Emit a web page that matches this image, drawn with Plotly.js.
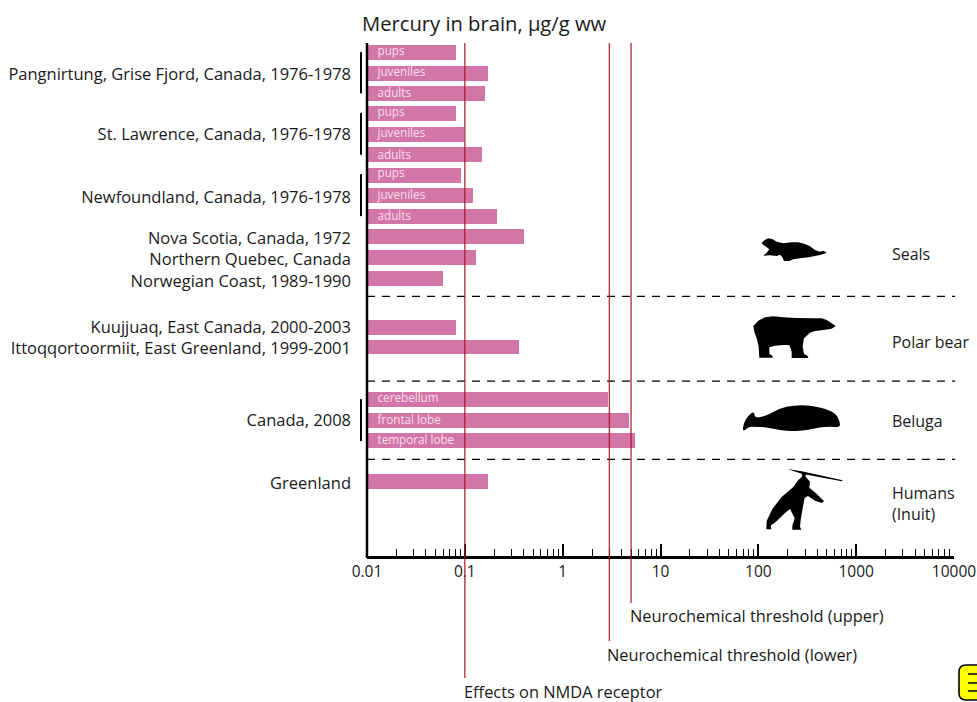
<!DOCTYPE html>
<html><head><meta charset="utf-8">
<script src="https://cdn.plot.ly/plotly-3.0.1.min.js"></script>
<style>html,body{margin:0;padding:0;background:#fff;overflow:hidden}</style></head>
<body><div id="chart" style="width:977px;height:702px"></div>
<script>
const FONT = '"Open Sans", Lato, sans-serif';
const barRows = [0,1.03,2,3,4.03,5,6.03,7,8,9,10,11.03,13.45,14.4,16.97,18,18.97,20.98];
const barValues = [0.081,0.173,0.161,0.081,0.098,0.15,0.091,0.121,0.213,0.40,0.13,0.06,0.081,0.358,2.9,4.76,5.5,0.173];
const innerLabels = ['pups','juveniles','adults','pups','juveniles','adults','pups','juveniles','adults','cerebellum','frontal lobe','temporal lobe'];
const innerRows = [-0.02,1,2.02,2.95,4,5.07,5.95,7,8.05,16.95,18,19.02];
const innerX = [0.0128,0.0128,0.0128,0.0128,0.0128,0.0128,0.0128,0.0128,0.0128,0.0128,0.0128,0.0128];
const siteLabels = ['Pangnirtung, Grise Fjord, Canada, 1976-1978','St. Lawrence, Canada, 1976-1978','Newfoundland, Canada, 1976-1978','Nova Scotia, Canada, 1972','Northern Quebec, Canada','Norwegian Coast, 1989-1990','Kuujjuaq, East Canada, 2000-2003','Ittoqqortoormiit, East Greenland, 1999-2001','Canada, 2008','Greenland'];
const siteRows = [1.07,4,7.07,9.07,10.12,11.2,13.45,14.45,18,21.05];
const xTickVals = [0.01,0.1,1,10,100,1000,10000];
const xTickText = ['0.01','0.1','1','10','100','1000','10000'];
const groupLabels = ['Seals','Polar bear','Beluga','Humans<br>(Inuit)'];
const groupRows = [9.95,14.25,18.1,22.15];
const groupX = [2320,2320,2320,2320];
const separatorRows = [11.92,16.07,19.9];
const brackets = [[-0.02,2],[2.95,5],[5.95,8],[16.95,19]];
const thresholds = [0.1,3,5];
const thresholdLabels = ['Effects on NMDA receptor','Neurochemical threshold (lower)','Neurochemical threshold (upper)'];
const thresholdEndPx = [678,641,603];
const thresholdLabelPxY = [691,654.5,615.5];
const thresholdLabelPxX = [464,607,630];

const seal = [[95,38],[103,31],[115,25],[128,28],[140,35],[160,40],[185,37],[205,37],[225,42],[240,49],[255,60],[270,65],[280,62],[290,68],[280,72],[270,75],[255,78],[235,82],[210,85],[190,88],[178,93],[162,93],[157,82],[150,74],[140,78],[120,76],[100,77],[110,68],[118,58],[108,50],[97,42]];
const bear = [[317,288],[305,280],[290,270],[275,265],[250,265],[200,264],[160,262],[130,259],[105,262],[85,272],[70,288],[73,305],[80,325],[86,350],[88,383],[128,383],[128,378],[118,372],[118,352],[135,347],[160,345],[178,345],[185,365],[185,384],[235,384],[233,378],[222,372],[218,350],[222,325],[240,308],[255,303],[280,300],[305,296]];
const beluga = [[38,112],[40,85],[55,62],[72,48],[75,70],[110,62],[150,40],[190,31],[240,31],[285,41],[317,55],[330,80],[330,97],[300,95],[270,97],[230,105],[190,109],[150,106],[110,97],[75,95],[55,95]];
const human = [[215,230],[228,233],[227,245],[240,260],[238,278],[258,295],[282,318],[276,324],[255,317],[234,303],[224,308],[218,340],[212,375],[210,395],[214,404],[187,404],[187,392],[194,370],[180,342],[165,354],[138,380],[122,392],[124,403],[109,403],[110,378],[127,342],[155,306],[190,276],[205,255],[216,245]];
const spear = [[172,222],[215,229],[338,256],[335,259],[215,236]];

const L=367,T=43,W=587,H=513;
const px = v => ((v-L)/W).toFixed(5);
const py = v => (1-(v-T)/H).toFixed(5);
function sil(pts, ox, oy){
  return {type:'path',xref:'paper',yref:'paper',fillcolor:'#000',line:{width:0},
    path:'M'+pts.map(p=>px(ox+p[0]/3)+','+py(oy+p[1]/3)).join('L')+'Z'};
}
function smooth(pts, ox, oy){
  const q = pts.map(p=>[ox+p[0]/3, oy+p[1]/3]), n = q.length;
  const mid = (a,b)=>[(a[0]+b[0])/2,(a[1]+b[1])/2];
  const m = mid(q[n-1],q[0]);
  let d = `M${px(m[0])},${py(m[1])}`;
  for(let i=0;i<n;i++){
    const e = mid(q[i],q[(i+1)%n]);
    d += `Q${px(q[i][0])},${py(q[i][1])} ${px(e[0])},${py(e[1])}`;
  }
  return {type:'path',xref:'paper',yref:'paper',fillcolor:'#000',line:{width:0},path:d+'Z'};
}
const shapes = [];
separatorRows.forEach(r=>shapes.push({type:'line',xref:'paper',yref:'y',x0:0,x1:1.002,y0:r,y1:r,line:{color:'#000',width:1.3,dash:'8px,7px'}}));
brackets.forEach(b=>shapes.push({type:'line',xref:'paper',yref:'y',x0:px(361),x1:px(361),y0:b[0],y1:b[1],line:{color:'#000',width:2}}));
thresholds.forEach((t,i)=>shapes.push({type:'line',xref:'x',yref:'paper',x0:t,x1:t,y0:1,y1:py(thresholdEndPx[i]),line:{color:'rgba(170,20,35,0.85)',width:1.4}}));
shapes.push({type:'line',xref:'paper',yref:'paper',x0:0,x1:0,y0:py(558),y1:1,line:{color:'#000',width:2.5}});
shapes.push(sil(seal,730,230),sil(bear,730,230),smooth(beluga,730,395),sil(human,730,395),sil(spear,730,395));
shapes.push({type:'path',xref:'paper',yref:'paper',fillcolor:'#ffff00',line:{color:'#000',width:1.6},
  path:`M${px(985)},${py(665)}L${px(966)},${py(665)}Q${px(959)},${py(665)} ${px(959)},${py(672)}L${px(959)},${py(693)}Q${px(959)},${py(700)} ${px(966)},${py(700)}L${px(985)},${py(700)}Z`});
[674,683,691].forEach(y=>shapes.push({type:'line',xref:'paper',yref:'paper',x0:px(968),x1:px(985),y0:py(y),y1:py(y),line:{color:'#000',width:1.5}}));

const annotations = thresholdLabels.map((t,i)=>({text:t,xref:'paper',yref:'paper',x:px(thresholdLabelPxX[i]),y:py(thresholdLabelPxY[i]),xanchor:'left',yanchor:'middle',xshift:-2,showarrow:false,font:{family:FONT,size:16.4,color:'#1a1a1a'}}));

const data = [
 {type:'bar',orientation:'h',x:barValues,y:barRows,width:0.733,marker:{color:'#d276a8',line:{width:0}},hoverinfo:'x'},
 {type:'scatter',mode:'text',x:innerX,y:innerRows,text:innerLabels,textposition:'middle right',textfont:{family:FONT,size:11.7,color:'#f9dfeb'},cliponaxis:false,hoverinfo:'skip'},
 {type:'scatter',mode:'text',x:groupX,y:groupRows,text:groupLabels,textposition:'middle right',textfont:{family:FONT,size:16,color:'#1a1a1a'},cliponaxis:false,hoverinfo:'skip'}
];
const layout = {
 width:977,height:702,autosize:false,showlegend:false,
 margin:{l:L,r:977-L-W,t:T,b:702-T-H,pad:0},
 paper_bgcolor:'#fff',plot_bgcolor:'#fff',
 font:{family:FONT,color:'#1a1a1a'},
 title:{text:'Mercury in brain, μg/g ww',x:362/977,xanchor:'left',xref:'container',y:1-24/702,yanchor:'middle',font:{family:FONT,size:20.2,color:'#1a1a1a'}},
 bargap:0,
 xaxis:{type:'log',range:[-2,4],showgrid:false,zeroline:false,showline:true,linecolor:'#000',linewidth:2.5,
   tickmode:'array',tickvals:xTickVals,ticktext:xTickText,ticks:'inside',ticklen:12,tickwidth:2,tickcolor:'#000',
   tickfont:{family:FONT,size:15.5,color:'#1a1a1a'},ticklabelstandoff:0,
   minor:{ticks:'inside',ticklen:7,tickwidth:1,tickcolor:'#000',dtick:'D1',showgrid:false}},
 yaxis:{range:[24.62,-0.465],showgrid:false,zeroline:false,showline:false,
   tickmode:'array',tickvals:siteRows,ticktext:siteLabels,ticks:'',ticklabelstandoff:15,
   tickfont:{family:FONT,size:16.5,color:'#1a1a1a'}},
 shapes:shapes,annotations:annotations
};
Plotly.newPlot('chart',data,layout,{displayModeBar:false,responsive:false});
</script></body></html>
